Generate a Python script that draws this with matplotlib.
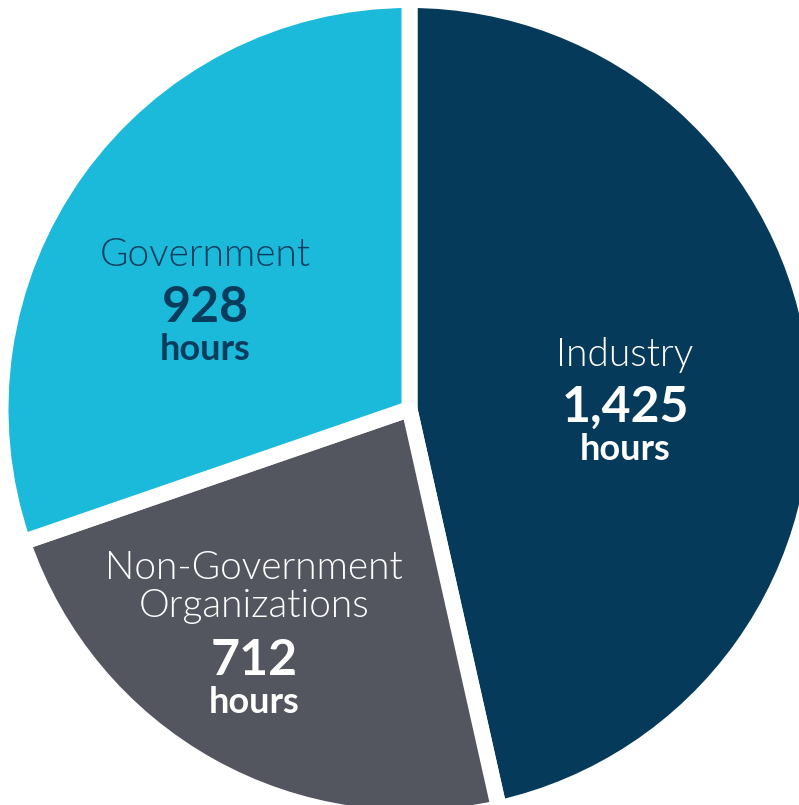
import matplotlib.pyplot as plt

# Hours by sector
sectors = ["Industry", "Non-Government\nOrganizations", "Government"]
hours = [1425, 712, 928]
colors = ["#053a5a", "#53565e", "#1bbadb"]
text_colors = ["white", "white", "#083c5c"]

W, H = 799, 805
fig = plt.figure(figsize=(W / 100, H / 100), dpi=100)
ax = fig.add_axes([0, 0, 1, 1])

# pie is bigger than the canvas, cropped on right and bottom
cx, cy, r = 409.5, H - 409, 409
ax.pie(hours, colors=colors, startangle=90, counterclock=False,
       center=(cx, cy), radius=r,
       wedgeprops=dict(edgecolor="white", linewidth=11.5, joinstyle="miter"))
ax.set_xlim(0, W)
ax.set_ylim(0, H)
ax.set_aspect("equal")
ax.axis("off")

# label anchors (pixel coords from top-left)
label_pos = [(625, 355), (254, 587), (205, 255)]
for name, val, (x, y), tc in zip(sectors, hours, label_pos, text_colors):
    n_lines = name.count("\n") + 1
    ax.text(x, H - y, name, ha="center", va="center", color=tc,
            fontsize=28, fontfamily="Lato", fontweight=300, linespacing=1.1)
    off = 21 * (n_lines - 1)
    ax.text(x, H - (y + 52 + off), f"{val:,}", ha="center", va="center", color=tc,
            fontsize=36, fontfamily="Lato", fontweight="bold")
    ax.text(x, H - (y + 94 + off), "hours", ha="center", va="center", color=tc,
            fontsize=26, fontfamily="Lato", fontweight="bold")

fig.savefig("out.png", dpi=100)
